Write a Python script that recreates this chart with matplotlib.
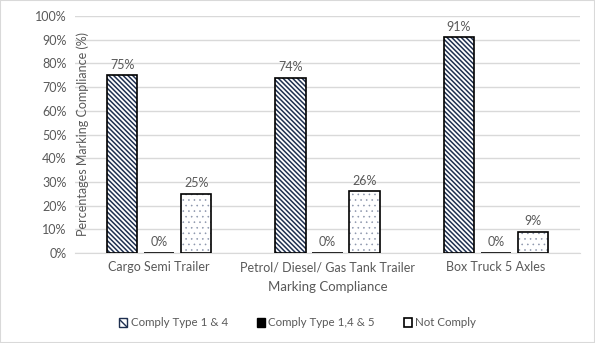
import matplotlib.pyplot as plt
import matplotlib.patches as mpatches
import numpy as np

categories = ['Cargo Semi Trailer', 'Petrol/ Diesel/ Gas Tank Trailer', 'Box Truck 5 Axles']
series_names = ['Comply Type 1 & 4', 'Comply Type 1,4 & 5', 'Not Comply']
comply_14 = [75, 74, 91]
comply_145 = [0, 0, 0]
not_comply = [25, 26, 9]

plt.rcParams['font.family'] = ['Lato', 'DejaVu Sans']
text_col = '#595959'
navy = '#1f3050'

fig = plt.figure(figsize=(5.95, 3.43), dpi=100)
fig.patches.append(mpatches.Rectangle((0, 0), 1, 1, transform=fig.transFigure,
                                      fill=False, edgecolor='#d9d9d9', linewidth=1.5))
ax = fig.add_axes([75 / 595, 1 - 253 / 343, 505 / 595, 237 / 343])

x = np.arange(len(categories))
w = 0.18
step = 0.22
hatches = ['\\' * 7, '', '...']
hcols = [navy, 'black', '#8a94aa']
hlw = [1.1, 1.0, 0.4]
series = [comply_14, comply_145, not_comply]

for i, vals in enumerate(series):
    pos = x + (i - 1) * step
    # hatch layer then black outline on top
    with plt.rc_context({'hatch.linewidth': hlw[i]}):
        ax.bar(pos, vals, w, color='white', edgecolor=hcols[i], hatch=hatches[i],
               linewidth=0, zorder=2)
    ax.bar(pos, vals, w, fill=False, edgecolor='black', linewidth=1.2, zorder=3)
    for p, v in zip(pos, vals):
        ax.text(p, v + 2, '{}%'.format(v), ha='center', va='bottom',
                fontsize=9, color=text_col)

ax.set_ylim(0, 100)
ax.set_xlim(-0.5, 2.5)
ax.set_yticks(np.arange(0, 101, 10))
ax.set_yticklabels(['{}%'.format(t) for t in range(0, 101, 10)])
ax.set_xticks(x)
ax.set_xticklabels(categories)
ax.tick_params(axis='both', length=0, labelsize=9, colors=text_col, pad=6)
ax.grid(axis='y', color='#d9d9d9', linewidth=1, zorder=0)
ax.set_axisbelow(True)
for s in ['top', 'right', 'left']:
    ax.spines[s].set_visible(False)
ax.spines['bottom'].set_color('#d9d9d9')

ax.set_xlabel('Marking Compliance', fontsize=9.5, color=text_col)
ax.xaxis.set_label_coords(0.5, -28 / 237)
ax.set_ylabel('Percentages Marking Compliance (%)', fontsize=9, color=text_col)
ax.yaxis.set_label_coords(0.028, 0.5)

with plt.rc_context({'hatch.linewidth': 1.0}):
    handles = [
        mpatches.Patch(facecolor='white', edgecolor=navy, hatch='\\' * 4, linewidth=1),
        mpatches.Patch(facecolor='black', edgecolor='black'),
        mpatches.Patch(facecolor='white', edgecolor='black', linewidth=1.2),
    ]
fig.legend(handles, series_names, loc='center', bbox_to_anchor=(0.5, 1 - 323 / 343),
           ncol=3, frameon=False, fontsize=8.3, handlelength=0.7, handleheight=0.7,
           handletextpad=0.3, columnspacing=2.5, labelcolor=text_col)

fig.savefig('out.png', dpi=100)
